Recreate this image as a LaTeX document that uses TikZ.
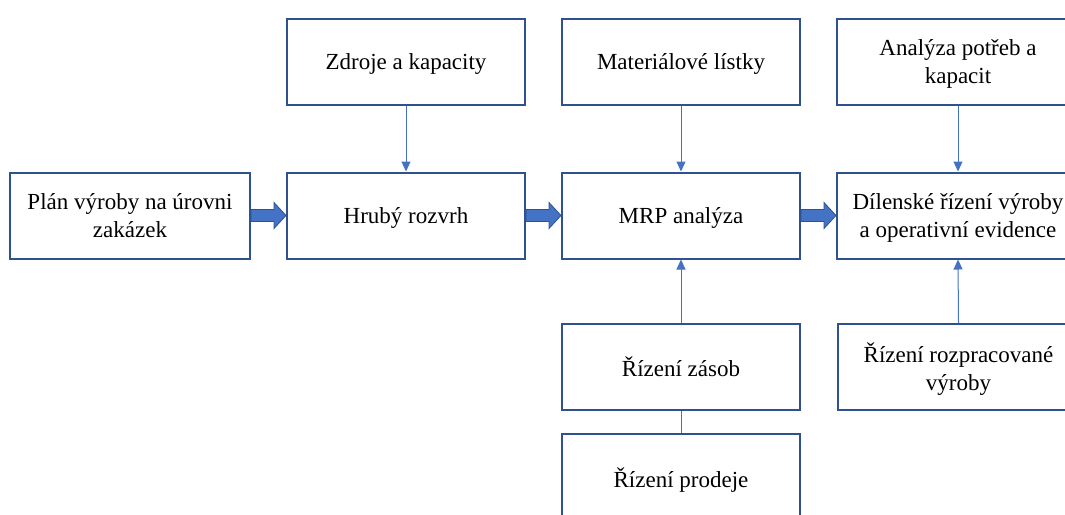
\documentclass[tikz,border=0pt]{standalone}
\usepackage{fontspec}
\setmainfont{Liberation Serif}
\usetikzlibrary{arrows.meta,calc}
\definecolor{edge}{HTML}{2F528F}
\definecolor{acc}{HTML}{4472C4}
\tikzset{
  box/.style={draw=edge, line width=2pt, fill=white, rectangle, minimum width=238pt, minimum height=86pt, align=center, inner sep=2pt, text depth=0pt, font=\fontsize{23}{28}\selectfont},
  thin/.style={draw=acc, line width=1pt, -{Triangle[width=9pt,length=10pt]}},
  plainline/.style={draw=acc, line width=1pt},
}
\newcommand{\blockarrow}[2]{%
  \filldraw[fill=acc, draw=edge, line width=0.8pt]
    ($(#1.east)+(0,-6)$) -- ($(#2.west)+(-12,-6)$) -- ($(#2.west)+(-12,-13)$) -- (#2.west)
    -- ($(#2.west)+(-12,13)$) -- ($(#2.west)+(-12,6)$) -- ($(#1.east)+(0,6)$) -- cycle;}
\begin{document}
\begin{tikzpicture}[x=1pt,y=-1pt]
\path[use as bounding box, clip] (0,0) rectangle (1065,514);
\fill[white] (0,0) rectangle (1065,514);
% top row
\node[box] (zdroje) at (406,61.5) {Zdroje a kapacity};
\node[box] (mat) at (681,61.5) {Materiálové lístky};
\node[box, minimum width=242pt] (anal) at (958,61.5) {Analýza potřeb a\\kapacit};
% middle row
\node[box, minimum width=240pt] (plan) at (130,215.5) {Plán výroby na úrovni\\zakázek};
\node[box] (hruby) at (406,215.5) {Hrubý rozvrh};
\node[box] (mrp) at (681,215.5) {MRP analýza};
\node[box, minimum width=242pt] (dil) at (958,215.5) {Dílenské řízení výroby\\a operativní evidence};
% lower rows
\node[box] (zasob) at (681,367) {Řízení zásob};
\node[box, minimum width=241pt] (rozp) at (958.5,367) {Řízení rozpracované\\výroby};
\node[box, minimum height=87pt] (prodej) at (681,477.5) {Řízení prodeje};
% thin arrows
\draw[thin] (zdroje.south) -- (hruby.north);
\draw[thin] (mat.south) -- (mrp.north);
\draw[thin] (anal.south) -- (dil.north);
\draw[thin] (zasob.north) -- (mrp.south);
\draw[thin] (rozp.north) -- (dil.south);
\draw[plainline] (zasob.south) -- (prodej.north);
% block arrows
\blockarrow{plan}{hruby}
\blockarrow{hruby}{mrp}
\blockarrow{mrp}{dil}
\end{tikzpicture}
\end{document}
